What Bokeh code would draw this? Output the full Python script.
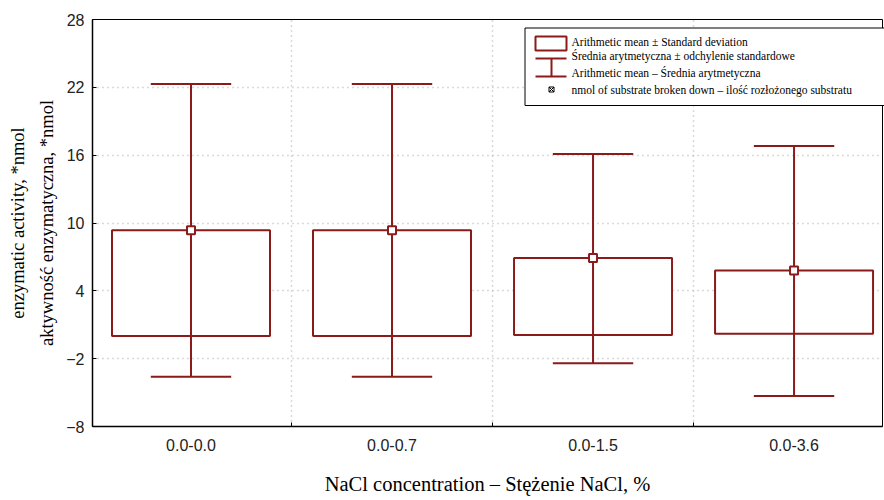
from bokeh.plotting import figure
from bokeh.models import FixedTicker, Range1d, LinearAxis
from bokeh.core.properties import value
from bokeh.embed import file_html
from bokeh.resources import INLINE

# ---- data ----
categories = ["0.0-0.0", "0.0-0.7", "0.0-1.5", "0.0-3.6"]
means = [9.35, 9.35, 6.9, 5.8]
box_low = [0.0, 0.0, 0.1, 0.2]
sd_low = [-3.6, -3.6, -2.4, -5.3]
sd_high = [22.3, 22.3, 16.1, 16.8]
y_ticks = [-8, -2, 4, 10, 16, 22, 28]
y_title_lines = ["enzymatic activity, *nmol", "aktywno\u015b\u0107 enzymatyczna, *nmol"]
x_title = "NaCl concentration \u2013 St\u0119\u017cenie NaCl, %"
legend_labels = [
    "Arithmetic mean \u00b1 Standard deviation",
    "\u015arednia arytmetyczna \u00b1 odchylenie standardowe",
    "Arithmetic mean \u2013 \u015arednia arytmetyczna",
    "nmol of substrate broken down \u2013 ilo\u015b\u0107 roz\u0142o\u017conego substratu",
]

RED = "#8b1a1a"
GRID = "#b4b4b4"

x_start, x_end = -0.49, 3.44
y_start, y_end = -8, 28

p = figure(width=884, height=500,
           x_range=Range1d(x_start, x_end), y_range=Range1d(y_start, y_end),
           output_backend="svg", toolbar_location=None,
           min_border_left=92, min_border_top=19, min_border_bottom=74, min_border_right=2)

xc = list(range(len(categories)))
boundaries = [i + 0.5 for i in range(len(categories) - 1)]

# boxes (0 .. mean)
p.quad(left=[x - 0.393 for x in xc], right=[x + 0.393 for x in xc],
       bottom=box_low, top=means, fill_color="white", line_color=RED, line_width=2)
# whiskers
p.segment(x0=xc, y0=sd_low, x1=xc, y1=sd_high, line_color=RED, line_width=2)
p.segment(x0=[x - 0.2 for x in xc], y0=sd_high, x1=[x + 0.2 for x in xc], y1=sd_high,
          line_color=RED, line_width=2)
p.segment(x0=[x - 0.2 for x in xc], y0=sd_low, x1=[x + 0.2 for x in xc], y1=sd_low,
          line_color=RED, line_width=2)
# mean markers
p.scatter(xc, means, marker="square", size=8, fill_color="white", line_color=RED, line_width=2)

# ---- axes ----
p.outline_line_color = "black"
p.outline_line_width = 1
p.yaxis.ticker = FixedTicker(ticks=y_ticks)
p.xaxis.ticker = FixedTicker(ticks=xc, minor_ticks=boundaries)
p.xaxis.major_label_overrides = {i: c for i, c in enumerate(categories)}
for ax in (p.xaxis[0], p.yaxis[0]):
    ax.axis_line_color = "black"
    ax.axis_line_width = 1.5
    ax.major_label_text_font = "Liberation Sans"
    ax.major_label_text_font_size = "16px"
    ax.major_label_text_color = "#222222"
    ax.axis_label_text_font = "Liberation Serif"
    ax.axis_label_text_font_style = "normal"
    ax.axis_label_text_color = "black"
p.yaxis.major_tick_in = 4
p.yaxis.major_tick_out = 0
p.yaxis.minor_tick_line_color = None
p.yaxis.major_label_standoff = 8
p.yaxis.axis_label = y_title_lines[1]
p.yaxis.axis_label_text_font_size = "18.5px"
p.yaxis.axis_label_standoff = 6

p.xaxis.major_tick_in = 0
p.xaxis.major_tick_out = 0
p.xaxis.minor_tick_in = 4
p.xaxis.minor_tick_out = 0
p.xaxis.minor_tick_line_color = "black"
p.xaxis.major_label_standoff = 12
p.xaxis.axis_label = x_title
p.xaxis.axis_label_text_font_size = "20.5px"
p.xaxis.axis_label_standoff = 19

# outer axis carrying the first line of the y title
ax2 = LinearAxis(ticker=FixedTicker(ticks=[]), axis_label=y_title_lines[0],
                 axis_line_color=None, major_tick_line_color=None, minor_tick_line_color=None,
                 major_label_text_font_size="0px", major_label_standoff=0,
                 major_tick_in=0, major_tick_out=0, minor_tick_in=0, minor_tick_out=0,
                 axis_label_text_font="Liberation Serif", axis_label_text_font_size="18.5px",
                 axis_label_text_font_style="normal", axis_label_text_color="black",
                 axis_label_standoff=7)
p.add_layout(ax2, "left")

p.xgrid.ticker = FixedTicker(ticks=boundaries)
p.ygrid.ticker = FixedTicker(ticks=y_ticks)
for g in (p.xgrid[0], p.ygrid[0]):
    g.grid_line_color = GRID
    g.grid_line_dash = "1 4"
    g.grid_line_width = 1.5

# ---- manual legend (page pixels -> data) ----
FL, FR, FT, FB = 92, 882, 19, 426
def dx(px):
    return x_start + (px - FL) / (FR - FL) * (x_end - x_start)
def dy(py):
    return y_end - (py - FT) / (FB - FT) * (y_end - y_start)

rs = []
rs.append(p.quad(left=[dx(524.5)], right=[dx(900)], top=[dy(27.5)], bottom=[dy(105)],
                 fill_color="white", line_color="black", line_width=1))
rs.append(p.quad(left=[dx(535)], right=[dx(566)], top=[dy(36)], bottom=[dy(50)],
                 fill_color=None, line_color=RED, line_width=2))
rs.append(p.segment(x0=[dx(535), dx(535), dx(551)], y0=[dy(58), dy(76), dy(58)],
                    x1=[dx(566), dx(566), dx(551)], y1=[dy(58), dy(76), dy(76)],
                    line_color=RED, line_width=2))
rs.append(p.scatter([dx(551)], [dy(89)], marker="square_x", size=5,
                    fill_color=None, line_color="black", line_width=1))
rs.append(p.text(x=[dx(571)] * 4, y=[dy(v) for v in (41.5, 55, 72, 89)], text=legend_labels,
                 text_font=value("Liberation Serif"), text_font_size="11.5px",
                 text_baseline="middle", text_align="left", text_color="black"))
for r in rs:
    r.level = "overlay"

open("out.html", "w").write(file_html(p, INLINE))
